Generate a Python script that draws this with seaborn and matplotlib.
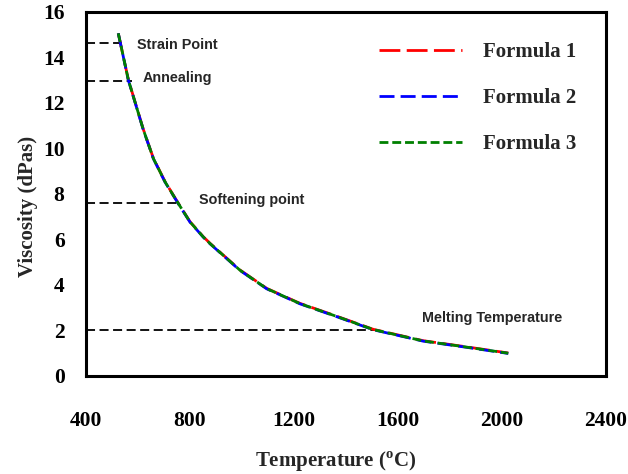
import matplotlib
matplotlib.use("Agg")
import matplotlib.pyplot as plt
import seaborn as sns
import pandas as pd

temps = [524, 563, 595, 620, 659, 704, 755, 800, 851, 877, 992, 1095, 1223, 1351, 1505, 1697, 1851, 2024]
formula1 = [15.06, 13.01, 11.80, 10.85, 9.57, 8.54, 7.59, 6.78, 6.12, 5.83, 4.66, 3.85, 3.19, 2.68, 2.05, 1.55, 1.30, 1.01]
formula2 = [15.06, 12.99, 11.78, 10.83, 9.55, 8.52, 7.57, 6.76, 6.10, 5.81, 4.64, 3.83, 3.17, 2.66, 2.03, 1.53, 1.28, 0.99]
formula3 = [15.06, 13.00, 11.79, 10.84, 9.56, 8.53, 7.58, 6.77, 6.11, 5.82, 4.65, 3.84, 3.18, 2.67, 2.04, 1.54, 1.29, 1.00]
series_names = ["Formula 1", "Formula 2", "Formula 3"]

ref_labels = ["Strain Point", "Annealing", "Softening point", "Melting Temperature"]
ref_visc = [14.62, 12.97, 7.59, 2.0]
ref_temp = [537, 576, 761, 1519]
ref_text_x = [596, 619, 835, 1692]
ref_text_y = [14.55, 13.1, 7.74, 2.55]

sns.set_theme(style="white")
plt.rcParams['font.family'] = ['Liberation Serif', 'DejaVu Serif']
plt.rcParams['mathtext.fontset'] = 'custom'
plt.rcParams['mathtext.rm'] = 'Liberation Serif:bold'

df = pd.DataFrame({
    "T": temps * 3,
    "V": formula1 + formula2 + formula3,
    "series": sum([[n] * len(temps) for n in series_names], []),
})

fig = plt.figure(figsize=(6.28, 4.74), dpi=100)
ax = fig.add_axes([0.137, 0.2068, 0.828, 0.768])

colors = {"Formula 1": "#ff0000", "Formula 2": "#0000ff", "Formula 3": "#008000"}
dashes = {"Formula 1": (7.5, 2.3), "Formula 2": (5.4, 2.2), "Formula 3": (3.2, 1.4)}

for x0, v, lab, tx, ty in zip(ref_temp, ref_visc, ref_labels, ref_text_x, ref_text_y):
    ax.plot([400, x0], [v, v], color="black", lw=1.3, ls=(0, (5, 2.5)))
    ax.text(tx, ty, lab, fontsize=10.4, fontweight="bold", family=["Liberation Sans"],
            ha="left", va="center")

sns.lineplot(data=df, x="T", y="V", hue="series", style="series",
             palette=colors, dashes=dashes, lw=2.0, ax=ax, sort=False)

ax.set_xlim(400, 2400)
ax.set_ylim(0, 16)
ax.set_xticks([400, 800, 1200, 1600, 2000, 2400])
ax.set_yticks(range(0, 17, 2))
for s in ax.spines.values():
    s.set_linewidth(2.2)
    s.set_color("black")
ax.tick_params(axis="both", direction="out", length=4.5, width=1.2, colors="black",
               labelsize=15.5)
ax.tick_params(axis="x", pad=21)
ax.tick_params(axis="y", pad=11)
for t in ax.get_xticklabels() + ax.get_yticklabels():
    t.set_fontweight("bold")

ax.set_xlabel("Temperature ($^{\\mathregular{o}}$C)", fontsize=15, fontweight="bold", labelpad=13)
ax.set_ylabel("Viscosity (dPas)", fontsize=15, fontweight="bold", labelpad=3.5)
ax.xaxis.label.set_x(0.481)
ax.yaxis.label.set_y(0.467)

leg = ax.legend(loc="upper left", bbox_to_anchor=(0.527, 0.969), frameon=False,
                prop={"family": "Liberation Serif", "weight": "bold", "size": 15},
                handlelength=4.0, handletextpad=1.0, labelspacing=1.25, title=None)

fig.savefig("out.png", dpi=100)
